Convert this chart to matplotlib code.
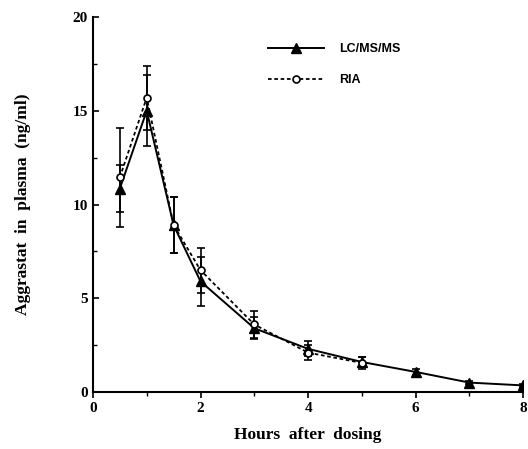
import matplotlib.pyplot as plt
from matplotlib.ticker import MultipleLocator

# LC/MS/MS data
lc_t = [0.5, 1, 1.5, 2, 3, 4, 5, 6, 7, 8]
lc_y = [10.85, 15.0, 8.9, 5.9, 3.4, 2.3, 1.6, 1.07, 0.5, 0.35]
lc_err = [1.25, 1.9, 1.5, 1.3, 0.6, 0.4, 0.25, 0.15, 0.1, 0.1]

# RIA data
ria_t = [0.5, 1, 1.5, 2, 3, 4, 5]
ria_y = [11.45, 15.7, 8.9, 6.5, 3.6, 2.1, 1.55]
ria_err = [2.65, 1.7, 1.5, 1.2, 0.7, 0.4, 0.3]

serif = ['Liberation Serif', 'DejaVu Serif']
sans = ['Liberation Sans', 'DejaVu Sans']

fig = plt.figure(figsize=(5.28, 4.49), dpi=100)
ax = fig.add_axes([0.176, 0.127, 0.815, 0.835])

# error bars first, then the lines with markers (legend uses the lines)
ax.errorbar(lc_t, lc_y, yerr=lc_err, fmt='none', ecolor='black',
            capsize=3, elinewidth=1.2, capthick=1.2)
ax.errorbar(ria_t, ria_y, yerr=ria_err, fmt='none', ecolor='black',
            capsize=3, elinewidth=1.2, capthick=1.2)
ax.plot(lc_t, lc_y, color='black', lw=1.4, marker='^', ms=7, mfc='black',
        label='LC/MS/MS')
ax.plot(ria_t, ria_y, color='black', lw=1.3, ls=(0, (2, 1.5)), marker='o',
        ms=5, mfc='white', mew=1.2, label='RIA')

ax.set_xlim(0, 8)
ax.set_ylim(0, 20)
ax.xaxis.set_major_locator(MultipleLocator(2))
ax.xaxis.set_minor_locator(MultipleLocator(1))
ax.yaxis.set_major_locator(MultipleLocator(5))
ax.yaxis.set_minor_locator(MultipleLocator(2.5))
ax.spines['top'].set_visible(False)
ax.spines['right'].set_visible(False)
ax.spines['left'].set_linewidth(1.5)
ax.spines['bottom'].set_linewidth(1.5)
ax.tick_params(axis='y', direction='in', length=4, width=1.2)
ax.tick_params(axis='y', which='minor', direction='in', length=3, width=1)
ax.tick_params(axis='x', direction='out', length=4, width=1.2)
ax.tick_params(axis='x', which='minor', direction='out', length=3, width=1)

for lab in ax.get_xticklabels() + ax.get_yticklabels():
    lab.set_fontfamily(serif)
    lab.set_fontweight('bold')
    lab.set_fontsize(11)

ax.set_xlabel('Hours  after  dosing', fontfamily=serif, fontweight='bold',
              fontsize=12.5, labelpad=8)
ax.set_ylabel('Aggrastat  in  plasma  (ng/ml)', fontfamily=serif,
              fontweight='bold', fontsize=12.5, labelpad=30)

leg = ax.legend(loc='upper left', bbox_to_anchor=(0.38, 0.96), frameon=False,
                handlelength=4.5, labelspacing=1.5, handletextpad=1.2,
                prop={'family': sans, 'weight': 'bold', 'size': 9})

plt.savefig('out.png', dpi=100)
